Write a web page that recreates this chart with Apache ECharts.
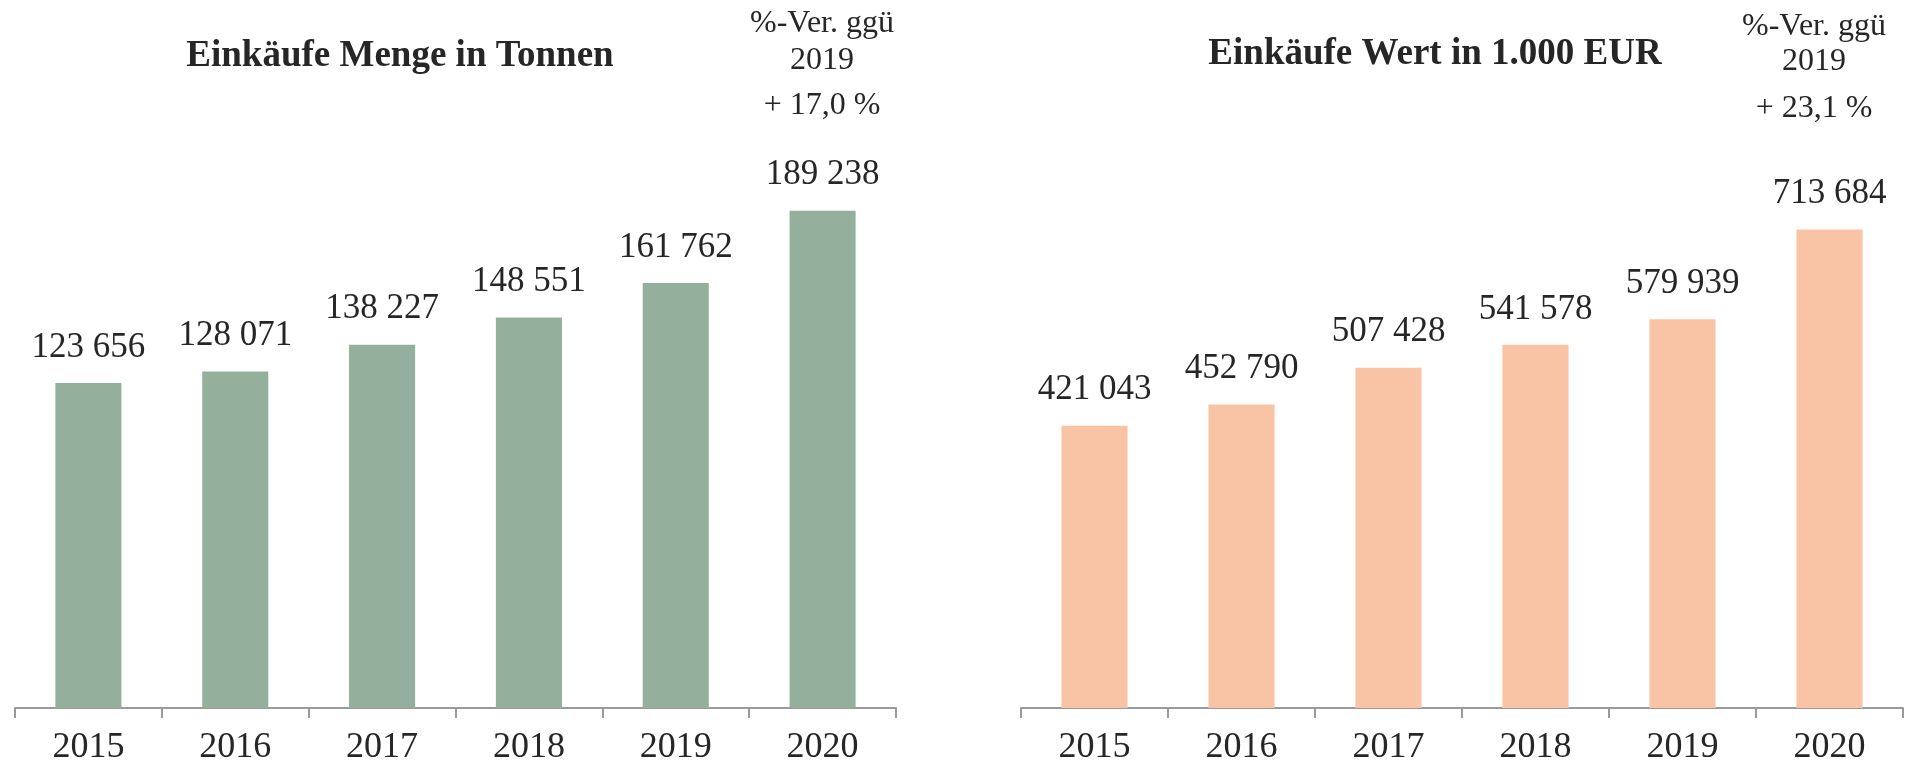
<!DOCTYPE html>
<html>
<head>
<meta charset="utf-8">
<script src="https://cdn.jsdelivr.net/npm/echarts@6/dist/echarts.min.js"></script>
<style>
  html, body { margin: 0; padding: 0; background: #fff; }
  #main { width: 1912px; height: 766px; }
</style>
</head>
<body>
<div id="main"></div>
<script>
// Daten
const years = ['2015', '2016', '2017', '2018', '2019', '2020']
const mengeTonnen = [123656, 128071, 138227, 148551, 161762, 189238]
const wertTsdEur = [421043, 452790, 507428, 541578, 579939, 713684]
const titelMenge = 'Einkäufe Menge in Tonnen'
const titelWert = 'Einkäufe Wert in 1.000 EUR'
const vergleichText = ['%-Ver. ggü', '2019']
const vergleichMenge = '+ 17,0 %'
const vergleichWert = '+ 23,1 %'

const FONT = '"Liberation Serif", "DejaVu Serif", serif'
const TEXT = '#262626'

// 123656 -> "123 656"
const fmt = v => String(v).replace(/\B(?=(\d{3})+(?!\d))/g, ' ')

function txt(x, y, text, size, bold) {
    return {
        type: 'text',
        x: x,
        y: y,
        style: {
            text: text,
            fill: TEXT,
            font: (bold ? 'bold ' : '') + size + 'px ' + FONT,
            textAlign: 'center',
            textVerticalAlign: 'middle'
        }
    }
}

function xAxisFor(idx) {
    return {
        type: 'category',
        gridIndex: idx,
        data: years,
        axisLine: { show: true, lineStyle: { color: '#9a9a9a', width: 2 } },
        axisTick: { show: true, alignWithLabel: false, length: 10, lineStyle: { color: '#9a9a9a', width: 2 } },
        axisLabel: { color: TEXT, fontFamily: FONT, fontSize: 36, margin: 22 }
    }
}

function yAxisFor(idx, max) {
    return {
        type: 'value',
        gridIndex: idx,
        min: 0,
        max: max,
        show: false,
        splitLine: { show: false }
    }
}

function barSeries(idx, data, color) {
    return {
        type: 'bar',
        xAxisIndex: idx,
        yAxisIndex: idx,
        data: data,
        barWidth: '45%',
        itemStyle: { color: color },
        label: {
            show: true,
            position: 'top',
            distance: 18,
            color: TEXT,
            fontFamily: FONT,
            fontSize: 35,
            formatter: p => fmt(p.value)
        }
    }
}

const chart = echarts.init(document.getElementById('main'))
chart.setOption({
    animation: false,
    grid: [
        { left: 15, right: 1016, top: 51, bottom: 57 },
        { left: 1021, right: 9, top: 71, bottom: 56 }
    ],
    xAxis: [xAxisFor(0), xAxisFor(1)],
    yAxis: [yAxisFor(0, 250000), yAxisFor(1, 950000)],
    series: [
        barSeries(0, mengeTonnen, '#94b09c'),
        barSeries(1, wertTsdEur, '#f8c4a5')
    ],
    graphic: [
        txt(400, 56, titelMenge, 37, true),
        txt(1435, 54, titelWert, 37, true),
        txt(822, 24, vergleichText[0], 32),
        txt(822, 61, vergleichText[1], 32),
        txt(822, 106, vergleichMenge, 32),
        txt(1814, 27, vergleichText[0], 32),
        txt(1814, 62, vergleichText[1], 32),
        txt(1814, 109, vergleichWert, 32)
    ]
})
</script>
</body>
</html>
